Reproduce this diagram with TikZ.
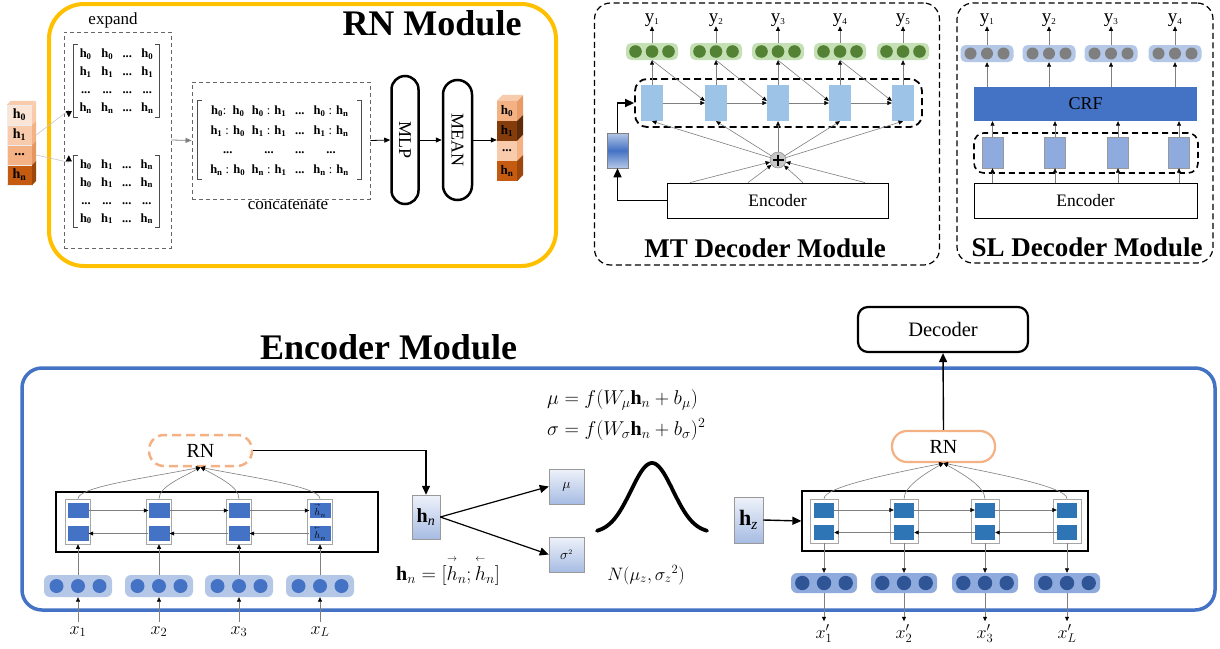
\RequirePackage{fix-cm}
\documentclass[tikz,border=0pt]{standalone}
\usepackage{amsmath}
\usepackage{fontspec}
\setmainfont{Liberation Serif}
\usetikzlibrary{arrows.meta,calc}
\definecolor{rnyel}{HTML}{FFC000}
\definecolor{encblue}{HTML}{4472C4}
\definecolor{lgreen}{HTML}{C5E0B4}
\definecolor{dgreen}{HTML}{548235}
\definecolor{lblue}{HTML}{9DC3E6}
\definecolor{pblue}{HTML}{B4C7E7}
\definecolor{mblue}{HTML}{8FAADC}
\definecolor{sblue}{HTML}{2E75B6}
\definecolor{nblue}{HTML}{2F5597}
\definecolor{dgray}{HTML}{7F7F7F}
\definecolor{peach}{HTML}{F4B183}
\definecolor{peachl}{HTML}{F8CBAD}
\definecolor{peachxl}{HTML}{FBE5D6}
\definecolor{rust}{HTML}{C55A11}
\definecolor{rustd}{HTML}{9E470D}
\definecolor{dbrown}{HTML}{843C0C}
\definecolor{dbrownd}{HTML}{5E2A08}
\definecolor{gradlt}{HTML}{EEF2FA}
\definecolor{graddk}{HTML}{A7BCE3}
\newcommand{\hb}[1]{\textbf{h}\textsubscript{\textbf{#1}}}
\newcommand{\fsz}[1]{\fontsize{#1}{#1}\selectfont}
\newcommand{\ylab}[1]{y\textsubscript{\fsz{9}#1}}
\newcommand{\lvh}{\overset{\scriptscriptstyle\leftarrow}{h}}
\newcommand{\rvh}{\overset{\scriptscriptstyle\rightarrow}{h}}
\newcommand{\brk}[1]{%
  \draw[line width=0.7pt,draw=black!70] ([xshift=4pt]#1.north west) -- (#1.north west) -- (#1.south west) -- ([xshift=4pt]#1.south west);
  \draw[line width=0.7pt,draw=black!70] ([xshift=-4pt]#1.north east) -- (#1.north east) -- (#1.south east) -- ([xshift=-4pt]#1.south east);}
\begin{document}
\begin{tikzpicture}[x=1pt,y=-1pt,
  ga/.style={line width=0.6pt, draw=dgray, -{Triangle[length=4.5pt,width=4pt,color=black]}},
  ka/.style={line width=0.8pt, draw=black, -{Triangle[length=6pt,width=5pt]}},
  ba/.style={line width=1.4pt, draw=black, -{Triangle[length=9pt,width=8pt]}},
  modbox/.style={draw, line width=1.2pt, dash pattern=on 6pt off 3.5pt, rounded corners=16pt, inner sep=0pt},
  txt/.style={inner sep=0pt, anchor=base},
  grad/.style={draw=gray!80, line width=0.5pt, top color=gradlt, bottom color=graddk, inner sep=0pt},
  cellout/.style={draw=gray!70, line width=0.6pt, inner sep=0pt},
  plain/.style={inner sep=0pt}
]
\fill[white] (0,0) rectangle (1220,648);
\useasboundingbox (0,0) rectangle (1220,648);

% ================= RN Module =================
\node[draw=rnyel, line width=4pt, rounded corners=35pt, minimum width=507, minimum height=262, plain] (rnmod) at (302.5,135) {};
\node[txt, font=\fsz{36}\bfseries] (rntitle) at (432,35) {RN Module};
\node[txt, font=\fsz{17}] (expandlbl) at (113,24) {expand};
\node[draw=gray!80!black, line width=0.9pt, dash pattern=on 4pt off 3pt, minimum width=107, minimum height=216, plain] (expbox) at (117.5,140) {};
\node[plain, minimum width=85, minimum height=66, font=\fontsize{12.5}{18}\selectfont] (mA) at (116.5,81)
 {\setlength\tabcolsep{4.6pt}\begin{tabular}{cccc}
 \hb{0} & \hb{0} & \textbf{...} & \hb{0}\\
 \hb{1} & \hb{1} & \textbf{...} & \hb{1}\\
 \textbf{...} & \textbf{...} & \textbf{...} & \textbf{...}\\
 \hb{n} & \hb{n} & \textbf{...} & \hb{n}\end{tabular}};
\brk{mA}
\node[plain, minimum width=85, minimum height=66, font=\fontsize{12.5}{18}\selectfont] (mB) at (116.5,191.5)
 {\setlength\tabcolsep{4.6pt}\begin{tabular}{cccc}
 \hb{0} & \hb{1} & \textbf{...} & \hb{n}\\
 \hb{0} & \hb{1} & \textbf{...} & \hb{n}\\
 \textbf{...} & \textbf{...} & \textbf{...} & \textbf{...}\\
 \hb{0} & \hb{1} & \textbf{...} & \hb{n}\end{tabular}};
\brk{mB}
\node[draw=gray!80!black, line width=0.9pt, dash pattern=on 4pt off 3pt, minimum width=178, minimum height=117, plain] (cbox) at (281,140.5) {};
\node[plain, minimum width=163, minimum height=70, font=\fontsize{12.5}{19.5}\selectfont] (mC) at (279.5,140)
 {\setlength\tabcolsep{3.2pt}\begin{tabular}{cccc}
 \hb{0}:\ \ \hb{0} & \hb{0} : \hb{1} & \makebox[14pt]{\textbf{...}} & \hb{0} : \hb{n}\\
 \hb{1} : \hb{0} & \hb{1} : \hb{1} & \textbf{...} & \hb{1} : \hb{n}\\
 \textbf{...} & \textbf{...} & \textbf{...} & \textbf{...}\\
 \hb{n} : \hb{0} & \hb{n} : \hb{1} & \textbf{...} & \hb{n} : \hb{n}\end{tabular}};
\brk{mC}
\node[txt, font=\fsz{17}] (conclbl) at (288,209) {concatenate};
\node[draw, line width=2.5pt, rounded corners=13.5pt, minimum width=27, minimum height=128, plain, font=\fsz{18}] (mlp) at (405,140) {\rotatebox{-90}{MLP}};
\node[draw, line width=2.5pt, rounded corners=14.5pt, minimum width=29, minimum height=120, plain, font=\fsz{18}] (mean) at (457.5,140) {\rotatebox{-90}{MEAN}};

% left stack
\foreach \i/\y/\fc/\sc/\tx in {0/115/peachxl/peachl/{\hb{0}},1/135/peachl/peach/{\hb{1}},2/155/peach/{peach!70!rust}/{\textbf{...}},3/175/rust/rustd/{\hb{n}}}{
  \node[fill=\fc, draw=white!85!gray, line width=0.3pt, minimum width=25, minimum height=20, plain, font=\fsz{14}] (ls\i) at (19.5,\y) {\tx};
  \fill[\sc] (ls\i.north east) -- ++(4,-4) -- ++(0,20) -- (ls\i.south east) -- cycle;
}
\fill[peachl] (ls0.north west) -- ++(4,-4) -- ++(25,0) -- (ls0.north east) -- cycle;
% right stack
\foreach \i/\y/\fc/\sc/\tx in {0/111/peach/{peach!75!rust}/{\hb{0}},1/131/dbrown/dbrownd/{\hb{1}},2/151/peachl/peach/{\textbf{...}},3/171/rust/rustd/{\hb{n}}}{
  \node[fill=\fc, minimum width=20, minimum height=20, plain, font=\fsz{13}] (rs\i) at (507,\y) {\tx};
  \fill[\sc] (rs\i.north east) -- ++(6,-6) -- ++(0,20) -- (rs\i.south east) -- cycle;
}
\fill[peachl] (rs0.north west) -- ++(6,-6) -- ++(20,0) -- (rs0.north east) -- cycle;

\draw[draw=gray!45, line width=0.6pt, -{Triangle[length=6pt,width=6pt,color=black]}] ([xshift=4pt]ls1.east) -- ($(mA.south west)+(-5,-7)$) -- ($(mA.south west)+(-5,0)$);
\draw[draw=gray!45, line width=0.6pt, -{Triangle[length=6pt,width=6pt,color=black]}] ([xshift=4pt]ls2.east) -- ($(mB.north west)+(-5,7)$) -- ($(mB.north west)+(-5,0)$);
\draw[ka, draw=gray] (expbox.east) -- (cbox.west);
\draw[ka] (cbox.east) -- (mlp.west);
\draw[ka] (mlp.east) -- (mean.west);
\draw[ka] (mean.east) -- (mean.east -| rs1.west);

% ================= MT Decoder =================
\node[modbox, minimum width=345, minimum height=262] (mtmod) at (767,134) {};
\node[txt, font=\fsz{27}\bfseries] (mttitle) at (765,257) {MT Decoder Module};
\node[draw, line width=1.8pt, dash pattern=on 7pt off 4pt, rounded corners=12pt, minimum width=287, minimum height=48, plain] (mtdash) at (778.5,103) {};
\foreach \i/\cx in {1/652,2/716,3/778,4/840,5/903}{
  \node[fill=lblue, minimum width=22, minimum height=36, plain] (r\i) at (\cx,103) {};
  \node[fill=lgreen, rounded corners=5pt, minimum width=52, minimum height=17, plain] (g\i) at (\cx,51.5) {};
  \foreach \d in {-16.5,0,16.5} \fill[dgreen] ($(g\i.center)+(\d,0)$) circle (6.3pt);
  \node[txt, font=\fsz{19}] (y\i) at (\cx,22) {\ylab{\i}};
}
\node[circle, draw=dgray, fill=gray!45, minimum size=16, plain] (plus) at (778,160) {};
\draw[line width=2.2pt] ($(plus.center)+(-5.5,0)$) -- ($(plus.center)+(5.5,0)$);
\draw[line width=2.2pt] ($(plus.center)+(0,-5.5)$) -- ($(plus.center)+(0,5.5)$);
\node[draw, line width=0.8pt, minimum width=221, minimum height=35, plain, font=\fsz{17.5}] (menc) at (777.5,200.5) {Encoder};
\node[draw=gray, line width=0.5pt, top color=pblue, bottom color=pblue, middle color=encblue, minimum width=21, minimum height=35, plain] (mgrad) at (617.5,150.5) {};
\foreach \i in {1,...,5}{
  \draw[ga] (r\i.north) -- (g\i.south);
  \draw[ga] (g\i.north) -- (y\i.south);
  \draw[ga] (plus) -- (r\i.south);
}
\foreach \i/\j in {1/2,2/3,3/4,4/5}{
  \draw[ga] (r\i.east) -- (r\j.west);
  \draw[ga] (g\i.south) -- ([yshift=2pt]r\j.west);
}
\foreach \dx in {-87.5,-29.5,25.5,87.5} \draw[ga] ([xshift=\dx pt]menc.north) -- (plus);
\draw[ba] (menc.west) -| (mgrad.south);
\draw[ba] (mgrad.north) |- (mtdash.west);

% ================= SL Decoder =================
\node[modbox, minimum width=256, minimum height=260] (slmod) at (1085,133) {};
\node[txt, font=\fsz{27}\bfseries] (sltitle) at (1087,256) {SL Decoder Module};
\node[fill=encblue, minimum width=223, minimum height=34, plain, font=\fsz{18}] (crf) at (1085.5,104) {CRF};
\node[draw, line width=1.6pt, dash pattern=on 6pt off 4pt, rounded corners=10pt, minimum width=224, minimum height=40, plain] (sldash) at (1086,153) {};
\node[draw, line width=0.8pt, minimum width=223, minimum height=35, plain, font=\fsz{17.5}] (senc) at (1085.5,200.5) {Encoder};
\foreach \i/\cx/\rx in {1/987/992.5,2/1049/1055,3/1111/1118,4/1175/1179}{
  \node[fill=mblue, draw=gray!80, line width=0.4pt, minimum width=21, minimum height=31, plain] (sr\i) at (\rx,152.5) {};
  \node[fill=pblue, rounded corners=5pt, minimum width=53, minimum height=17, plain] (sd\i) at (\cx,53.5) {};
  \foreach \d in {-16.5,0,16.5} \fill[dgray] ($(sd\i.center)+(\d,0)$) circle (6pt);
  \node[txt, font=\fsz{19}] (sy\i) at (\cx,22) {\ylab{\i}};
  \draw[ga] (sd\i.north) -- (sy\i.south);
  \draw[ga] (sd\i.south |- crf.north) -- (sd\i.south);
  \draw[ga] (sr\i.north) -- (sr\i.north |- crf.south);
  \draw[ga] (sr\i.south |- senc.north) -- (sr\i.south);
}

% ================= Encoder Module =================
\node[draw=encblue, line width=3.5pt, rounded corners=20pt, minimum width=1193, minimum height=242, plain] (encmod) at (618.5,489) {};
\node[txt, font=\fsz{36}\bfseries] (enctitle) at (388.5,359) {Encoder Module};
\node[draw, line width=2.2pt, rounded corners=10pt, minimum width=170, minimum height=45, plain, font=\fsz{20.5}] (dec) at (943,329.5) {Decoder};
\node[draw=peach, line width=2.2pt, rounded corners=15pt, minimum width=103, minimum height=31, plain, font=\fsz{20}] (rrn) at (943.5,446.5) {RN};
\node[draw=peach, line width=2.5pt, dash pattern=on 9pt off 5pt, rounded corners=15pt, minimum width=103, minimum height=31, plain, font=\fsz{20}] (lrn) at (200.5,450.5) {RN};
\draw[ba] (rrn.north) -- (dec.south);

% left BiLSTM
\node[draw, line width=1.3pt, minimum width=322, minimum height=60, plain] (lbil) at (217,522) {};
\foreach \i/\cx/\ta/\tb in {1/78/{}/{},2/159/{}/{},3/239/{}/{},4/320/{$\rvh_{n}$}/{$\lvh_{n}$}}{
  \node[cellout, minimum width=25, minimum height=45] (lo\i) at (\cx,521.5) {};
  \node[fill=encblue, minimum width=21, minimum height=15, plain, font=\fsz{10}] (lt\i) at (\cx,510.5) {\ta};
  \node[fill=encblue, minimum width=21, minimum height=15, plain, font=\fsz{10}] (lb\i) at (\cx,533.5) {\tb};
  \node[fill=pblue, rounded corners=6pt, minimum width=68, minimum height=22, plain] (li\i) at (\cx,586) {};
  \foreach \d in {-21.5,0,21.5} \fill[encblue] ($(li\i.center)+(\d,0)$) circle (7pt);
  \draw[ga] (li\i.north) -- (lo\i.south);
}
\foreach \i/\cx/\lab in {1/78/1,2/159/2,3/239/3,4/320/L}{
  \node[txt, inner ysep=4pt, font=\fsz{18}] (lx\i) at (\cx,634) {$x_{\lab}$};
  \draw[ga] (lx\i.north) -- (li\i.south);
}
\foreach \i/\j in {1/2,2/3,3/4}{
  \draw[ga] (lt\i.east) -- (lt\j.west);
  \draw[ga] (lb\j.west) -- (lb\i.east);
}
\foreach \i/\dx in {1/-50,2/-18,3/18,4/50}
  \draw[ga] (lo\i.north) .. controls +(0,-12) and +(\dx,10) .. (lrn.south);

% middle
\node[grad, minimum width=28, minimum height=44, font=\fsz{20}] (hn) at (426,517) {\textbf{h}\textsubscript{\textit{n}}};
\node[grad, minimum width=35, minimum height=35, font=\fsz{14}] (mu) at (566.5,486.5) {$\mu$};
\node[grad, minimum width=35, minimum height=35, font=\fsz{14}] (sig) at (566.5,554.5) {$\sigma^{\scriptscriptstyle 2}$};
\draw[ba] (lrn.east) -| (hn.north);
\draw[ba, line width=1.2pt] (hn.east) -- (mu.west);
\draw[ba, line width=1.2pt] (hn.east) -- (sig.west);
\node[txt, anchor=base west, font=\fsz{20}] (eqmu) at (547,404) {$\mu = f(W_{\mu}\mathbf{h}_{n} + b_{\mu})$};
\node[txt, anchor=base west, font=\fsz{20}] (eqsig) at (547,435) {$\sigma = f(W_{\sigma}\mathbf{h}_{n} + b_{\sigma})^{2}$};
\draw[line width=3.8pt, line cap=round] plot[domain=-55:55, samples=70, smooth] ({652+\x},{533-70*exp(-0.5*(\x/21)^2)});
\node[txt, font=\fsz{18}] (eqN) at (646,580) {$N(\mu_{z},\sigma_{z}{}^{2})$};
\node[txt, font=\fsz{20}] (eqhn) at (448,580) {$\mathbf{h}_{n} = [\rvh_{n};\lvh_{n}]$};

% right BiLSTM
\node[draw, line width=1.3pt, minimum width=286, minimum height=60, plain] (rbil) at (945,521) {};
\node[grad, minimum width=29, minimum height=46, font=\fsz{22}] (hz) at (748.5,520) {\textbf{h}\textsubscript{\textit{z}}};
\draw[ba] (hz.east) -- (rbil.west);
\foreach \i/\cx in {1/824,2/904,3/985,4/1067}{
  \node[cellout, minimum width=28, minimum height=44] (ro\i) at (\cx,521) {};
  \node[fill=sblue, minimum width=20, minimum height=15, plain] (rt\i) at (\cx,510) {};
  \node[fill=sblue, minimum width=20, minimum height=15, plain] (rb\i) at (\cx,532.5) {};
  \node[fill=mblue, rounded corners=6pt, minimum width=66, minimum height=20, plain] (rd\i) at (\cx,583) {};
  \foreach \d in {-21.7,0,21.7} \fill[nblue] ($(rd\i.center)+(\d,0)$) circle (7.2pt);
  \draw[ga] (ro\i.south) -- (rd\i.north);
}
\foreach \i/\cx/\lab in {1/824/1,2/904/2,3/985/3,4/1067/L}{
  \node[txt, inner ysep=3pt, font=\fsz{18}] (rx\i) at (\cx,638) {$x^{\prime}_{\lab}$};
  \draw[ga] (rd\i.south) -- (rx\i.north);
}
\foreach \i/\j in {1/2,2/3,3/4}{
  \draw[ga] (rt\i.east) -- (rt\j.west);
  \draw[ga] (rb\j.west) -- (rb\i.east);
}
\foreach \i/\dx in {1/-50,2/-18,3/18,4/50}
  \draw[ga] (ro\i.north) .. controls +(0,-12) and +(\dx,10) .. (rrn.south);
\end{tikzpicture}
\end{document}
